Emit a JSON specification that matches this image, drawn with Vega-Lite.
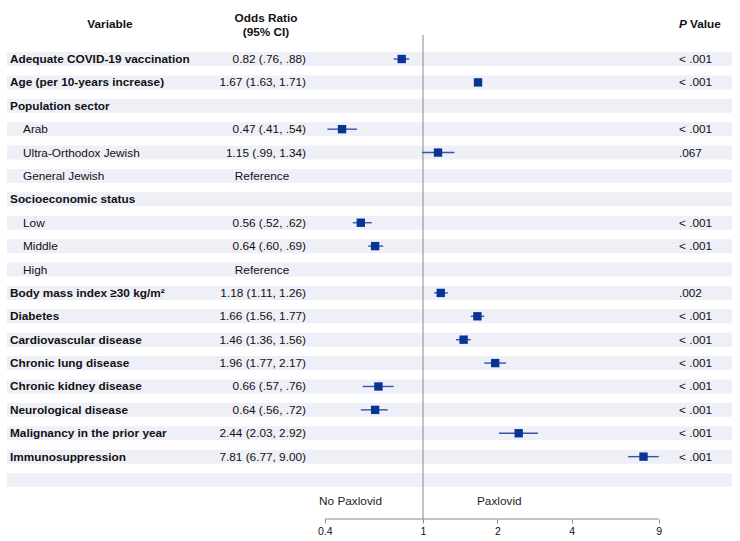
{
  "$schema": "https://vega.github.io/schema/vega-lite/v6.json",
  "width": 725,
  "height": 519,
  "autosize": {"type": "none"},
  "padding": {"left": 7, "top": 0, "right": 8, "bottom": 22},
  "background": "white",
  "config": {"view": {"stroke": null}, "font": "Liberation Sans", "text": {"font": "Liberation Sans", "fontSize": 11.8, "baseline": "middle", "color": "#111111"}},
  "datasets": {
    "rows": [
      {"row": 1, "label": "Adequate COVID-19 vaccination", "level": "main", "or": 0.82, "lo": 0.76, "hi": 0.88, "ci": "0.82 (.76, .88)", "p": "< .001"},
      {"row": 2, "label": "Age (per 10-years increase)", "level": "main", "or": 1.67, "lo": 1.63, "hi": 1.71, "ci": "1.67 (1.63, 1.71)", "p": "< .001"},
      {"row": 3, "label": "Population sector", "level": "main", "or": null, "lo": null, "hi": null, "ci": "", "p": ""},
      {"row": 4, "label": "Arab", "level": "sub", "or": 0.47, "lo": 0.41, "hi": 0.54, "ci": "0.47 (.41, .54)", "p": "< .001"},
      {"row": 5, "label": "Ultra-Orthodox Jewish", "level": "sub", "or": 1.15, "lo": 0.99, "hi": 1.34, "ci": "1.15 (.99, 1.34)", "p": ".067"},
      {"row": 6, "label": "General Jewish", "level": "sub", "or": null, "lo": null, "hi": null, "ci": "Reference", "p": ""},
      {"row": 7, "label": "Socioeconomic status", "level": "main", "or": null, "lo": null, "hi": null, "ci": "", "p": ""},
      {"row": 8, "label": "Low", "level": "sub", "or": 0.56, "lo": 0.52, "hi": 0.62, "ci": "0.56 (.52, .62)", "p": "< .001"},
      {"row": 9, "label": "Middle", "level": "sub", "or": 0.64, "lo": 0.60, "hi": 0.69, "ci": "0.64 (.60, .69)", "p": "< .001"},
      {"row": 10, "label": "High", "level": "sub", "or": null, "lo": null, "hi": null, "ci": "Reference", "p": ""},
      {"row": 11, "label": "Body mass index ≥30 kg/m²", "level": "main", "or": 1.18, "lo": 1.11, "hi": 1.26, "ci": "1.18 (1.11, 1.26)", "p": ".002"},
      {"row": 12, "label": "Diabetes", "level": "main", "or": 1.66, "lo": 1.56, "hi": 1.77, "ci": "1.66 (1.56, 1.77)", "p": "< .001"},
      {"row": 13, "label": "Cardiovascular disease", "level": "main", "or": 1.46, "lo": 1.36, "hi": 1.56, "ci": "1.46 (1.36, 1.56)", "p": "< .001"},
      {"row": 14, "label": "Chronic lung disease", "level": "main", "or": 1.96, "lo": 1.77, "hi": 2.17, "ci": "1.96 (1.77, 2.17)", "p": "< .001"},
      {"row": 15, "label": "Chronic kidney disease", "level": "main", "or": 0.66, "lo": 0.57, "hi": 0.76, "ci": "0.66 (.57, .76)", "p": "< .001"},
      {"row": 16, "label": "Neurological disease", "level": "main", "or": 0.64, "lo": 0.56, "hi": 0.72, "ci": "0.64 (.56, .72)", "p": "< .001"},
      {"row": 17, "label": "Malignancy in the prior year", "level": "main", "or": 2.44, "lo": 2.03, "hi": 2.92, "ci": "2.44 (2.03, 2.92)", "p": "< .001"},
      {"row": 18, "label": "Immunosuppression", "level": "main", "or": 7.81, "lo": 6.77, "hi": 9.00, "ci": "7.81 (6.77, 9.00)", "p": "< .001"},
      {"row": 19, "label": "", "level": "blank", "or": null, "lo": null, "hi": null, "ci": "", "p": ""}
    ]
  },
  "data": {"name": "rows"},
  "layer": [
    {
      "mark": {"type": "rule", "strokeWidth": 14, "color": "#eeeff7"},
      "encoding": {
        "y": {"field": "row", "type": "quantitative", "scale": {"domain": [-1.5224, 20.666], "reverse": true, "nice": false, "zero": false}, "axis": null}
      }
    },
    {
      "data": {"values": [{}]},
      "mark": {"type": "rule", "color": "#8a8a8a", "strokeWidth": 1},
      "encoding": {
        "x": {"datum": 1, "type": "quantitative"},
        "y": {"datum": -0.03, "type": "quantitative"},
        "y2": {"datum": 20.666}
      }
    },
    {
      "data": {"values": [{}]},
      "mark": {"type": "rule", "color": "#8a8a8a", "strokeWidth": 1},
      "encoding": {
        "x": {"datum": 0.4, "type": "quantitative"},
        "x2": {"datum": 9},
        "y": {"datum": 20.666, "type": "quantitative"}
      }
    },
    {
      "transform": [{"filter": "isValid(datum.lo)"}],
      "mark": {"type": "rule", "color": "#3555a8", "strokeWidth": 1.4},
      "encoding": {
        "x": {"field": "lo", "type": "quantitative",
              "scale": {"type": "log", "domain": [0.02069, 17.82], "nice": false, "zero": false},
              "axis": {"values": [0.4, 1, 2, 4, 9], "format": "~g", "domain": false, "grid": false, "title": null, "tickColor": "#8a8a8a", "tickSize": 4, "labelFontSize": 10.5, "labelFont": "Liberation Sans", "labelColor": "#111111", "labelPadding": 3, "labelFlush": false, "labelOverlap": false}},
        "x2": {"field": "hi"},
        "y": {"field": "row", "type": "quantitative"}
      }
    },
    {
      "transform": [{"filter": "isValid(datum.or)"}],
      "mark": {"type": "square", "size": 70, "filled": true, "opacity": 1, "color": "#0a3396"},
      "encoding": {
        "x": {"field": "or", "type": "quantitative"},
        "y": {"field": "row", "type": "quantitative"}
      }
    },
    {
      "transform": [{"filter": "datum.level == 'main'"}],
      "mark": {"type": "text", "align": "left", "fontWeight": "bold"},
      "encoding": {
        "x": {"datum": 0.02128, "type": "quantitative"},
        "y": {"field": "row", "type": "quantitative"},
        "text": {"field": "label"}
      }
    },
    {
      "transform": [{"filter": "datum.level == 'sub'"}],
      "mark": {"type": "text", "align": "left"},
      "encoding": {
        "x": {"datum": 0.02402, "type": "quantitative"},
        "y": {"field": "row", "type": "quantitative"},
        "text": {"field": "label"}
      }
    },
    {
      "transform": [{"filter": "datum.ci != '' && datum.ci != 'Reference'"}],
      "mark": {"type": "text", "align": "right"},
      "encoding": {
        "x": {"datum": 0.336, "type": "quantitative"},
        "y": {"field": "row", "type": "quantitative"},
        "text": {"field": "ci"}
      }
    },
    {
      "transform": [{"filter": "datum.ci == 'Reference'"}],
      "mark": {"type": "text", "align": "center"},
      "encoding": {
        "x": {"datum": 0.223, "type": "quantitative"},
        "y": {"field": "row", "type": "quantitative"},
        "text": {"field": "ci"}
      }
    },
    {
      "transform": [{"filter": "datum.p != ''"}],
      "mark": {"type": "text", "align": "left"},
      "encoding": {
        "x": {"datum": 10.87, "type": "quantitative"},
        "y": {"field": "row", "type": "quantitative"},
        "text": {"field": "p"}
      }
    },
    {
      "data": {"values": [{}]},
      "mark": {"type": "text", "align": "center", "fontWeight": "bold", "text": "Variable"},
      "encoding": {
        "x": {"datum": 0.05403, "type": "quantitative"},
        "y": {"datum": -0.5, "type": "quantitative"}
      }
    },
    {
      "data": {"values": [{}]},
      "mark": {"type": "text", "align": "center", "fontWeight": "bold", "lineHeight": 14, "text": ["Odds Ratio", "(95% CI)"]},
      "encoding": {
        "x": {"datum": 0.2314, "type": "quantitative"},
        "y": {"datum": -0.753, "type": "quantitative"}
      }
    },
    {
      "data": {"values": [{}]},
      "mark": {"type": "text", "align": "left", "fontWeight": "bold", "fontStyle": "italic", "text": "P"},
      "encoding": {
        "x": {"datum": 10.87, "type": "quantitative"},
        "y": {"datum": -0.5, "type": "quantitative"}
      }
    },
    {
      "data": {"values": [{}]},
      "mark": {"type": "text", "align": "left", "fontWeight": "bold", "text": "Value"},
      "encoding": {
        "x": {"datum": 12.05, "type": "quantitative"},
        "y": {"datum": -0.5, "type": "quantitative"}
      }
    },
    {
      "data": {"values": [{}]},
      "mark": {"type": "text", "align": "left", "text": "No Paxlovid", "color": "#222222"},
      "encoding": {
        "x": {"datum": 0.3793, "type": "quantitative"},
        "y": {"datum": 19.897, "type": "quantitative"}
      }
    },
    {
      "data": {"values": [{}]},
      "mark": {"type": "text", "align": "left", "text": "Paxlovid", "color": "#222222"},
      "encoding": {
        "x": {"datum": 1.654, "type": "quantitative"},
        "y": {"datum": 19.897, "type": "quantitative"}
      }
    }
  ]
}
